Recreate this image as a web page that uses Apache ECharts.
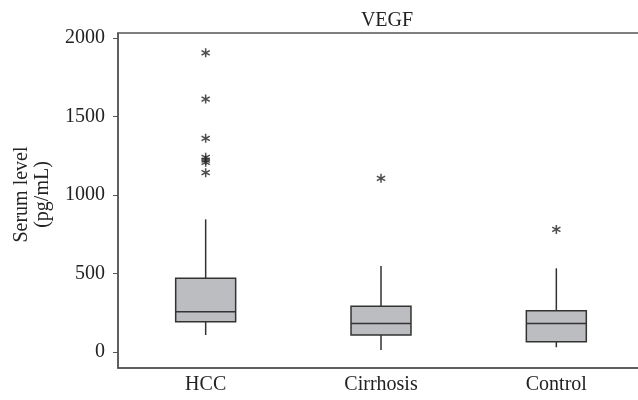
<!DOCTYPE html>
<html>
<head>
<meta charset="utf-8">
<script src="https://cdn.jsdelivr.net/npm/echarts@6/dist/echarts.min.js"></script>
<style>
	html, body { margin: 0; padding: 0; background: #fff; }
	#chart { width: 638px; height: 400px; }
</style>
</head>
<body>
<div id="chart"></div>
<script>
// VEGF 血清水平 箱线图
var groups = ['HCC', 'Cirrhosis', 'Control'];
// [下须, Q1, 中位数, Q3, 上须]
var boxHCC = [108, 193, 256, 470, 845];
var boxCirrhosis = [13, 108, 182, 292, 548];
var boxControl = [30, 66, 182, 263, 533];
// 异常值 [组序号, 值]
var outliers = [
	[0, 1906], [0, 1611], [0, 1361], [0, 1240], [0, 1222], [0, 1208], [0, 1142],
	[1, 1106],
	[2, 781]
];
var yTicks = [0, 500, 1000, 1500, 2000];

var boxes = [boxHCC, boxCirrhosis, boxControl].map(function (b, i) {
	return [i].concat(b);
});

// 星号
var asterisk = 'path://M0.8,-5L-0.8,-5L-0.8,5L0.8,5Z' +
	'M3.93,3.19L4.73,1.81L-3.93,-3.19L-4.73,-1.81Z' +
	'M-4.73,1.81L-3.93,3.19L4.73,-1.81L3.93,-3.19Z';

var font = 'Liberation Serif';
var lineColor = '#555';

var myChart = echarts.init(document.getElementById('chart'));
var option = {
	animation: false,
	title: {
		text: 'VEGF',
		left: 382,
		textAlign: 'center',
		top: 6,
		textStyle: { fontFamily: font, fontSize: 20, fontWeight: 'normal', color: '#222' }
	},
	grid: {
		left: 118,
		top: 33,
		width: 526,
		height: 335,
		containLabel: false,
		outerBoundsMode: 'none',
		show: true,
		borderColor: lineColor,
		borderWidth: 1.5
	},
	xAxis: {
		type: 'category',
		data: groups,
		axisLine: { onZero: false, lineStyle: { color: lineColor, width: 1.5 } },
		axisTick: { alignWithLabel: true, length: 5, lineStyle: { color: lineColor } },
		axisLabel: { fontFamily: font, fontSize: 20, color: '#222', margin: 7 },
		splitLine: { show: false }
	},
	yAxis: {
		type: 'value',
		min: -102,
		max: 2032,
		name: 'Serum level\n(pg/mL)',
		nameLocation: 'middle',
		nameRotate: 90,
		nameGap: 65,
		nameTextStyle: { fontFamily: font, fontSize: 20, color: '#222', lineHeight: 21, padding: [0, 0, 0, 12] },
		axisLine: { show: true, lineStyle: { color: lineColor, width: 1.5 } },
		axisTick: { show: true, length: 5, customValues: yTicks, lineStyle: { color: lineColor } },
		axisLabel: {
			fontFamily: font, fontSize: 20, color: '#222', margin: 13, customValues: yTicks,
			formatter: function (v) { return String(v); }
		},
		splitLine: { show: false }
	},
	series: [
		{
			type: 'custom',
			data: boxes,
			renderItem: function (params, api) {
				var idx = api.value(0);
				var lo = api.coord([idx, api.value(1)]);
				var q1 = api.coord([idx, api.value(2)]);
				var md = api.coord([idx, api.value(3)]);
				var q3 = api.coord([idx, api.value(4)]);
				var hi = api.coord([idx, api.value(5)]);
				var half = api.size([1, 0])[0] * 0.171;
				var x = md[0];
				var stroke = { stroke: '#333', lineWidth: 1.5 };
				return {
					type: 'group',
					children: [
						{ type: 'line', shape: { x1: x, y1: q3[1], x2: x, y2: hi[1] }, style: stroke },
						{ type: 'line', shape: { x1: x, y1: q1[1], x2: x, y2: lo[1] }, style: stroke },
						{ type: 'rect', shape: { x: x - half, y: q3[1], width: half * 2, height: q1[1] - q3[1] },
							style: { fill: '#bcbdc1', stroke: '#333', lineWidth: 1.5 } },
						{ type: 'line', shape: { x1: x - half, y1: md[1], x2: x + half, y2: md[1] }, style: stroke }
					]
				};
			}
		},
		{
			type: 'scatter',
			data: outliers,
			symbol: asterisk,
			symbolSize: 9,
			itemStyle: { color: '#222' }
		}
	]
};
myChart.setOption(option);
</script>
</body>
</html>
